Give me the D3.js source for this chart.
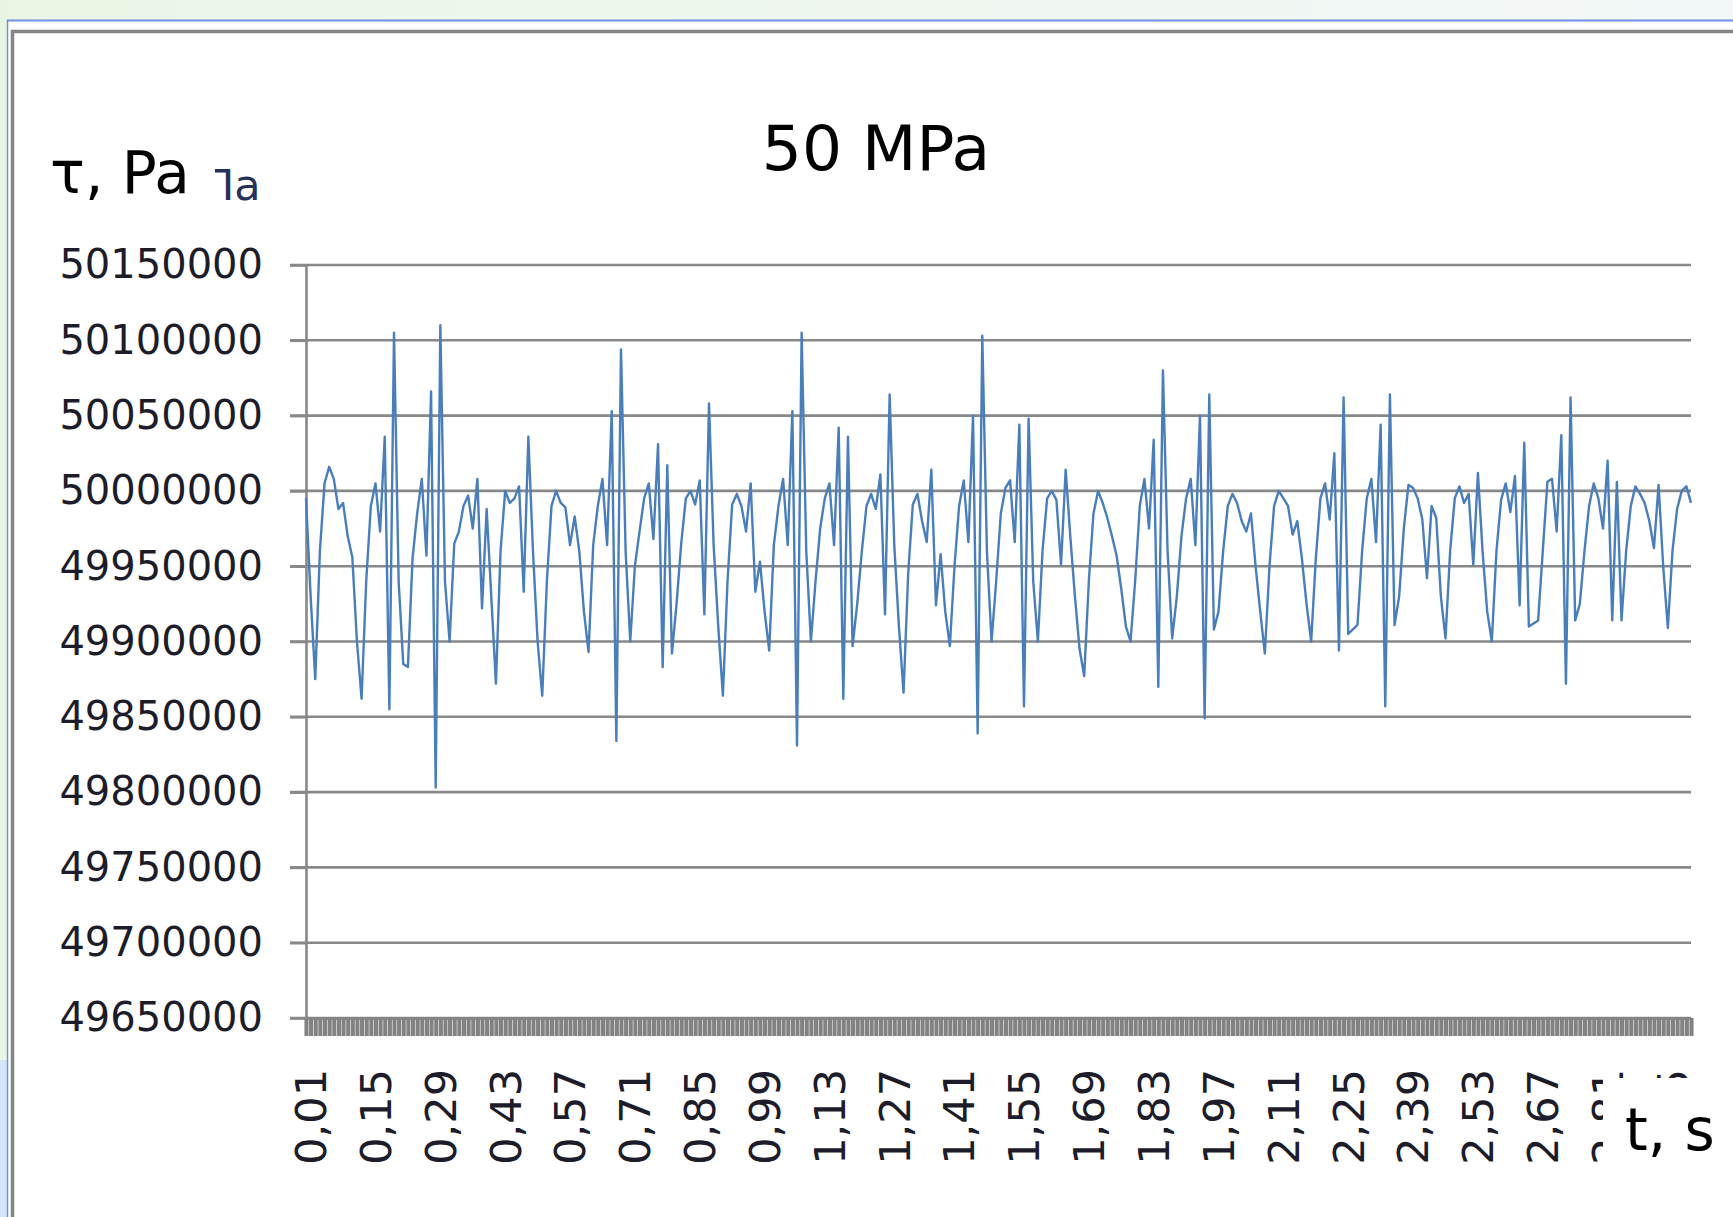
<!DOCTYPE html>
<html>
<head>
<meta charset="utf-8">
<script src="https://cdn.jsdelivr.net/npm/d3@7"></script>
<style>
  body { margin: 0; background: #fff; }
  svg { display: block; }
  text { font-family: "DejaVu Sans", sans-serif; }
</style>
</head>
<body>
<svg id="chart" width="1733" height="1217"></svg>
<script>
// categories: time in seconds, 0,01 .. 3,00
const categories = d3.range(300).map(i => ((i + 1) / 100).toFixed(2).replace(".", ","));

// shear stress, Pa
const tau = [
  49995000, 49930000, 49875000, 49960000, 50005000, 50016000, 50008000, 49988000, 49992000, 49970000,
  49956000, 49900000, 49862000, 49940000, 49990000, 50005000, 49973000, 50036000, 49855000, 50105000,
  49940000, 49885000, 49883000, 49955000, 49985000, 50008000, 49957000, 50066000, 49803000, 50110000,
  49940000, 49900000, 49965000, 49973000, 49990000, 49997000, 49975000, 50008000, 49922000, 49988000,
  49930000, 49872000, 49960000, 50000000, 49992000, 49995000, 50003000, 49933000, 50036000, 49960000,
  49900000, 49864000, 49940000, 49990000, 50000000, 49992000, 49989000, 49964000, 49983000, 49960000,
  49920000, 49893000, 49964000, 49990000, 50008000, 49964000, 50053000, 49834000, 50094000, 49960000,
  49900000, 49950000, 49973000, 49995000, 50005000, 49968000, 50031000, 49883000, 50017000, 49892000,
  49925000, 49965000, 49995000, 50000000, 49991000, 50007000, 49918000, 50058000, 49964000, 49910000,
  49864000, 49940000, 49991000, 49998000, 49990000, 49973000, 50005000, 49933000, 49953000, 49920000,
  49894000, 49964000, 49990000, 50008000, 49964000, 50053000, 49831000, 50105000, 49960000, 49900000,
  49940000, 49975000, 49995000, 50005000, 49964000, 50042000, 49862000, 50036000, 49897000, 49925000,
  49960000, 49990000, 49998000, 49988000, 50011000, 49918000, 50064000, 49964000, 49910000, 49866000,
  49945000, 49991000, 49998000, 49980000, 49966000, 50014000, 49924000, 49958000, 49920000, 49897000,
  49950000, 49990000, 50007000, 49966000, 50050000, 49839000, 50103000, 49960000, 49900000, 49940000,
  49985000, 50002000, 50007000, 49966000, 50044000, 49857000, 50048000, 49940000, 49900000, 49960000,
  49995000, 50000000, 49994000, 49951000, 50014000, 49970000, 49930000, 49895000, 49877000, 49940000,
  49985000, 50000000, 49992000, 49982000, 49970000, 49957000, 49935000, 49910000, 49900000, 49940000,
  49990000, 50008000, 49975000, 50034000, 49870000, 50080000, 49960000, 49902000, 49930000, 49970000,
  49995000, 50008000, 49964000, 50050000, 49849000, 50064000, 49908000, 49920000, 49960000, 49990000,
  49998000, 49992000, 49980000, 49973000, 49985000, 49950000, 49920000, 49892000, 49950000, 49990000,
  50000000, 49995000, 49990000, 49971000, 49980000, 49955000, 49925000, 49900000, 49955000, 49995000,
  50005000, 49981000, 50025000, 49894000, 50062000, 49905000, 49908000, 49911000, 49960000, 49995000,
  50008000, 49966000, 50044000, 49857000, 50064000, 49911000, 49930000, 49975000, 50004000, 50002000,
  49995000, 49981000, 49942000, 49990000, 49982000, 49930000, 49902000, 49960000, 49995000, 50003000,
  49992000, 49998000, 49951000, 50012000, 49960000, 49920000, 49900000, 49960000, 49994000, 50005000,
  49986000, 50010000, 49924000, 50032000, 49910000, 49912000, 49914000, 49960000, 50006000, 50008000,
  49973000, 50037000, 49872000, 50062000, 49914000, 49925000, 49960000, 49990000, 50005000, 49995000,
  49975000, 50020000, 49914000, 50006000, 49914000, 49960000, 49990000, 50003000, 49998000, 49992000,
  49980000, 49962000, 50004000, 49950000, 49909000, 49960000, 49988000, 50000000, 50003000, 49992000
];

const yTicks = [49650000, 49700000, 49750000, 49800000, 49850000, 49900000,
                49950000, 50000000, 50050000, 50100000, 50150000];

const xTickLabels = ["0,01", "0,15", "0,29", "0,43", "0,57", "0,71", "0,85", "0,99",
                     "1,13", "1,27", "1,41", "1,55", "1,69", "1,83", "1,97", "2,11",
                     "2,25", "2,39", "2,53", "2,67", "2,81", "2,95"];

const svg = d3.select("#chart");

// window frame behind the chart
const defs = svg.append("defs");
const grad = defs.append("linearGradient").attr("id", "topband");
grad.append("stop").attr("offset", "0%").attr("stop-color", "#eaf6e4");
grad.append("stop").attr("offset", "100%").attr("stop-color", "#f3f7f8");

svg.append("rect").attr("x", 0).attr("y", 0).attr("width", 1733).attr("height", 20)
    .attr("fill", "url(#topband)");
svg.append("rect").attr("x", 0).attr("y", 0).attr("width", 7).attr("height", 1060)
    .attr("fill", "#e8f5e1");
svg.append("rect").attr("x", 0).attr("y", 1060).attr("width", 7).attr("height", 157)
    .attr("fill", "#d3e6f8");
svg.append("line").attr("x1", 7).attr("x2", 1733).attr("y1", 20.5).attr("y2", 20.5)
    .attr("stroke", "#6f90e4").attr("stroke-width", 2);
svg.append("line").attr("x1", 7.5).attr("x2", 7.5).attr("y1", 20).attr("y2", 1217)
    .attr("stroke", "#6f90e4").attr("stroke-width", 1.5);

// chart border
svg.append("path")
    .attr("d", "M12.5,1217 V31.5 H1733")
    .attr("fill", "none")
    .attr("stroke", "#858585")
    .attr("stroke-width", 3.5);

const plotLeft = 306, plotRight = 1691, plotTop = 265, plotBottom = 1018;

const x = d3.scalePoint().domain(categories).range([plotLeft, plotRight]).padding(0);
const y = d3.scaleLinear().domain([49650000, 50150000]).range([plotBottom, plotTop]);

// horizontal gridlines
svg.append("g")
    .selectAll("line")
    .data(yTicks)
    .join("line")
    .attr("x1", plotLeft - 16)
    .attr("x2", plotRight)
    .attr("y1", d => y(d))
    .attr("y2", d => y(d))
    .attr("stroke", "#888")
    .attr("stroke-width", 2.6);

// y axis
const yAxis = svg.append("g")
    .attr("transform", "translate(" + plotLeft + ",0)")
    .call(d3.axisLeft(y).tickValues(yTicks).tickSize(16).tickSizeOuter(0).tickPadding(27)
        .tickFormat(d3.format("d")));
yAxis.select(".domain").attr("stroke", "#888").attr("stroke-width", 2.6);
yAxis.selectAll(".tick line").attr("stroke", "#888").attr("stroke-width", 2.6);
yAxis.selectAll(".tick text")
    .attr("fill", "#1c1c2a")
    .style("font-size", "40px");

// dense category tick marks
const xTicks = svg.append("g")
    .attr("transform", "translate(0," + plotBottom + ")")
    .call(d3.axisBottom(x).tickValues(categories).tickSize(18).tickSizeOuter(0).tickFormat(""));
xTicks.select(".domain").attr("stroke", "#888").attr("stroke-width", 2.6);
xTicks.selectAll(".tick line").attr("stroke", "#828282").attr("stroke-width", 4.1);

// rotated category labels
const xLabels = svg.append("g")
    .attr("transform", "translate(0," + plotBottom + ")")
    .call(d3.axisBottom(x).tickValues(xTickLabels).tickSize(0));
xLabels.select(".domain").remove();
xLabels.selectAll(".tick text")
    .attr("transform", "rotate(-90)")
    .attr("text-anchor", "end")
    .attr("x", -51)
    .attr("y", 4)
    .attr("dy", "0.36em")
    .attr("fill", "#1c1c2a")
    .style("font-size", "43px");

// series
svg.append("path")
    .datum(tau)
    .attr("fill", "none")
    .attr("stroke", "#4a7ebb")
    .attr("stroke-width", 2.4)
    .attr("stroke-linejoin", "round")
    .attr("d", d3.line().x((d, i) => x(categories[i])).y(d => y(d)));

// title
svg.append("text")
    .text("50 MPa")
    .attr("x", 876)
    .attr("y", 170)
    .attr("text-anchor", "middle")
    .style("font-size", "63px")
    .attr("fill", "black");

// old axis title left underneath the new one
svg.append("text")
    .text("Па")
    .attr("x", 202)
    .attr("y", 200)
    .style("font-size", "43px")
    .attr("fill", "#26315a");

svg.append("rect").attr("x", 40).attr("y", 128).attr("width", 175).attr("height", 80)
    .attr("fill", "white");
svg.append("text")
    .text("τ, Pa")
    .attr("x", 50)
    .attr("y", 193)
    .style("font-size", "58px")
    .attr("fill", "black");

// x axis title box
svg.append("rect").attr("x", 1603).attr("y", 1078).attr("width", 130).attr("height", 139)
    .attr("fill", "white");
svg.append("text")
    .text("t, s")
    .attr("x", 1625)
    .attr("y", 1150)
    .style("font-size", "58px")
    .attr("fill", "black");
</script>
</body>
</html>
